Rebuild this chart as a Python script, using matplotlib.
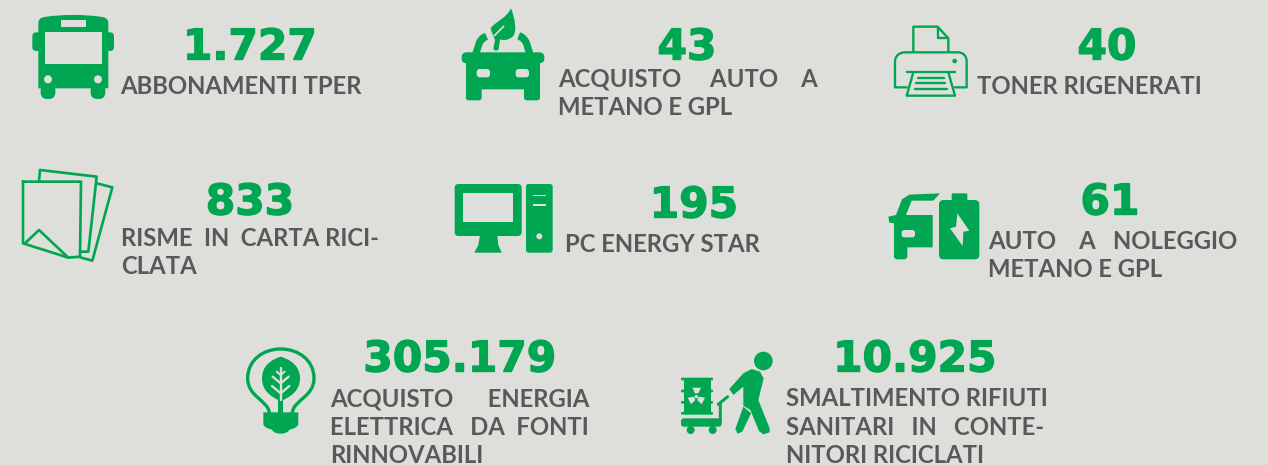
import matplotlib
matplotlib.use('Agg')
import matplotlib.pyplot as plt
import matplotlib.patheffects as pe
from matplotlib.patches import Circle, FancyBboxPatch, PathPatch, Polygon, Rectangle
from matplotlib.path import Path

BG = '#dedfda'
GREEN = '#00a651'
GREY = '#58595b'

# chart content
values = ['1.727', '43', '40', '833', '195', '61', '305.179', '10.925']
labels = [
    ['ABBONAMENTI TPER'],
    ['ACQUISTO AUTO A', 'METANO E GPL'],
    ['TONER RIGENERATI'],
    ['RISME IN CARTA RICI-', 'CLATA'],
    ['PC ENERGY STAR'],
    ['AUTO A NOLEGGIO', 'METANO E GPL'],
    ['ACQUISTO ENERGIA', 'ELETTRICA DA FONTI', 'RINNOVABILI'],
    ['SMALTIMENTO RIFIUTI', 'SANITARI IN CONTE-', 'NITORI RICICLATI'],
]

# layout, in pixels from the top left corner
value_x = [250, 687, 1107, 250, 694, 1110, 460, 915]
value_y = [59.5, 59.5, 59.5, 214.5, 217.5, 214.5, 371.5, 371.5]
label_x = [120, 558, 977, 121, 565, 988, 330, 786]
label_right = [None, 817, None, 379, None, 1235, 589, 1042]
label_y = [[94], [87, 115], [94], [246, 274], [252], [249, 277], [406, 435, 463], [406, 435, 463]]
# the last line of a paragraph is not justified, nor are the lines marked here
not_justified = {(7, 0)}

fig = plt.figure(figsize=(12.68, 4.65), dpi=100, facecolor=BG)
ax = fig.add_axes([0, 0, 1, 1])
ax.set_xlim(0, 1268)
ax.set_ylim(465, 0)
ax.axis('off')
renderer = fig.canvas.get_renderer()


# icon coordinates are given at 3x, relative to an origin
class Icon:
    def __init__(self, ox, oy):
        self.ox = ox
        self.oy = oy

    def pt(self, x, y):
        return self.ox + x / 3., self.oy + y / 3.

    def poly(self, pts, fc=GREEN, z=3):
        ax.add_patch(Polygon([self.pt(*p) for p in pts], closed=True, fc=fc, ec='none', zorder=z))

    def line(self, pts, lw=6, color=GREEN, z=3, closed=False):
        xy = [self.pt(*p) for p in pts]
        if closed:
            xy.append(xy[0])
        ax.plot([p[0] for p in xy], [p[1] for p in xy], color=color, lw=lw * 0.24,
                solid_capstyle='round', solid_joinstyle='round', zorder=z)

    def rect(self, x0, y0, x1, y1, r=0, fc=GREEN, z=3):
        x, y = self.pt(x0, y0)
        w, h = (x1 - x0) / 3., (y1 - y0) / 3.
        if r == 0:
            ax.add_patch(Rectangle((x, y), w, h, fc=fc, ec='none', zorder=z))
        else:
            ax.add_patch(FancyBboxPatch((x, y), w, h, boxstyle='round,pad=0,rounding_size=%f' % (r / 3.),
                                        fc=fc, ec='none', zorder=z))

    def circle(self, x, y, r, fc=GREEN, z=3):
        ax.add_patch(Circle(self.pt(x, y), r / 3., fc=fc, ec='none', zorder=z))

    def path(self, segs, fc=GREEN, ec='none', lw=0, z=3):
        verts, codes = [], []
        for s in segs:
            if s[0] == 'M':
                verts.append(self.pt(s[1], s[2]))
                codes.append(Path.MOVETO)
            elif s[0] == 'L':
                verts.append(self.pt(s[1], s[2]))
                codes.append(Path.LINETO)
            elif s[0] == 'C':
                verts += [self.pt(s[1], s[2]), self.pt(s[3], s[4]), self.pt(s[5], s[6])]
                codes += [Path.CURVE4] * 3
        ax.add_patch(PathPatch(Path(verts, codes), fc=fc, ec=ec, lw=lw * 0.24, zorder=z,
                               capstyle='round', joinstyle='round'))


# bus
ic = Icon(0, 0)
ic.rect(97, 97, 342, 153, r=12, z=2)
ic.path([('M', 115, 70), ('C', 115, 55, 125, 52, 140, 50), ('C', 190, 43, 250, 43, 300, 50),
         ('C', 315, 52, 325, 55, 325, 70), ('L', 325, 265), ('L', 115, 265), ('L', 115, 70)])
ic.rect(135, 97, 305, 193, fc=BG, z=4)
ic.rect(182, 61, 257, 81, fc=BG, z=4)
ic.circle(144, 238, 12, fc=BG, z=4)
ic.circle(294, 238, 12, fc=BG, z=4)
ic.rect(122, 250, 166, 297, r=20)
ic.rect(272, 250, 316, 297, r=20)

# car with leaf
ic = Icon(455, 5)
ic.rect(20, 142, 268, 175, r=15)
ic.rect(33, 160, 255, 253, r=8)
ic.rect(33, 225, 80, 286, r=8)
ic.rect(207, 225, 255, 286, r=8)
ic.path([('M', 50, 150), ('L', 63, 110), ('C', 68, 97, 78, 88, 90, 84), ('L', 99, 104),
         ('C', 90, 108, 85, 113, 82, 120), ('L', 70, 158), ('L', 50, 158), ('L', 50, 150)])
ic.path([('M', 237, 150), ('L', 224, 110), ('C', 219, 97, 208, 85, 195, 82), ('L', 187, 103),
         ('C', 197, 107, 202, 113, 205, 120), ('L', 216, 158), ('L', 237, 158), ('L', 237, 150)])
ic.rect(65, 192, 105, 217, r=9, fc=BG, z=4)
ic.rect(182, 192, 222, 217, r=9, fc=BG, z=4)
ic.path([('M', 168, 10), ('C', 178, 35, 190, 85, 170, 97), ('C', 158, 106, 145, 107, 135, 103),
         ('L', 131, 132), ('C', 128, 139, 116, 138, 115, 130), ('L', 120, 105), ('C', 115, 92, 109, 80, 107, 70),
         ('C', 120, 50, 155, 40, 168, 10)])
ic.line([(118, 92), (146, 64)], lw=5, color=BG, z=4)

# printer
ic = Icon(870, 0)
ic.line([(130, 155), (130, 80), (203, 80), (235, 115), (235, 155)], lw=7)
ic.line([(203, 85), (203, 115), (235, 115)], lw=7)
ic.path([('M', 110, 262), ('L', 75, 262), ('L', 75, 185), ('C', 75, 168, 88, 157, 105, 157), ('L', 262, 157),
         ('C', 280, 157, 290, 168, 290, 185), ('L', 290, 262), ('L', 255, 262)], fc='none', ec=GREEN, lw=7)
ic.circle(254, 183, 7)
ic.line([(110, 217), (256, 217)], lw=7)
ic.line([(130, 217), (110, 287), (255, 287), (235, 217)], lw=7)
ic.line([(143, 233), (222, 233)], lw=7)
ic.line([(139, 250), (226, 250)], lw=7)
ic.line([(136, 268), (230, 268)], lw=7)

# paper sheets
ic = Icon(0, 160)
ic.line([(69, 65), (243, 65), (240, 290), (205, 293), (69, 250)], lw=8, closed=True)
ic.line([(75, 250), (117, 210), (205, 293)], lw=8)
ic.line([(117, 63), (120, 30), (290, 50), (265, 275), (240, 275)], lw=8)
ic.line([(290, 70), (337, 82), (277, 302), (240, 292)], lw=8)

# computer
ic = Icon(440, 160)
ic.rect(44, 72, 245, 228, r=12)
ic.rect(70, 98, 219, 186, fc=BG, z=4)
ic.poly([(120, 225), (172, 225), (175, 255), (185, 278), (103, 278), (115, 255)])
ic.rect(258, 72, 338, 278, r=8)
ic.rect(280, 104, 318, 109, fc=BG, z=4)
ic.rect(280, 132, 318, 137, fc=BG, z=4)
ic.circle(298, 229, 9, fc=BG, z=4)

# car and battery
ic = Icon(870, 160)
ic.poly([(118, 104), (210, 100), (190, 122), (125, 122), (108, 165), (188, 165), (188, 262), (112, 262),
          (112, 292), (106, 298), (78, 298), (72, 292), (72, 190), (58, 188), (55, 170), (78, 165), (96, 118)])
ic.rect(95, 210, 135, 232, r=8, fc=BG, z=4)
ic.rect(207, 120, 328, 298, r=14)
ic.rect(245, 100, 292, 130, r=4)
ic.poly([(262, 160), (298, 212), (280, 215), (278, 258), (240, 205), (258, 200)], fc=BG, z=4)

# light bulb
ic = Icon(230, 325)
ic.path([('M', 118, 262), ('C', 112, 225, 53, 215, 53, 160), ('C', 53, 105, 100, 72, 152, 72),
         ('C', 205, 72, 252, 105, 252, 160), ('C', 252, 215, 192, 225, 187, 262)], fc='none', ec=GREEN, lw=10)
ic.path([('M', 152, 95), ('C', 185, 105, 210, 125, 210, 160), ('C', 210, 195, 185, 215, 152, 228),
         ('C', 120, 215, 96, 195, 96, 160), ('C', 96, 125, 120, 105, 152, 95)])
ic.line([(152, 130), (152, 226)], lw=7, color=BG, z=4)
ic.line([(128, 155), (152, 175), (176, 155)], lw=7, color=BG, z=4)
ic.line([(126, 183), (152, 205), (178, 183)], lw=7, color=BG, z=4)
ic.line([(140, 140), (152, 150), (164, 140)], lw=6, color=BG, z=4)
ic.rect(145, 226, 160, 265)
ic.path([('M', 100, 262), ('L', 205, 262), ('L', 205, 295), ('C', 205, 305, 195, 310, 178, 314),
         ('C', 172, 330, 132, 330, 126, 314), ('C', 110, 310, 100, 305, 100, 295), ('L', 100, 262)])

# person pushing a cart
ic = Icon(675, 345)
ic.circle(265, 48, 28)
ic.poly([(163, 132), (205, 85), (230, 72), (255, 80), (266, 100), (250, 165), (284, 250), (284, 262),
         (265, 268), (252, 258), (226, 195), (205, 182), (205, 125), (175, 150)])
ic.poly([(205, 185), (228, 205), (202, 260), (188, 266), (181, 252)])
ic.line([(158, 155), (130, 178), (136, 178), (136, 230)], lw=9)
ic.rect(18, 220, 140, 245, r=8)
ic.circle(47, 255, 12)
ic.circle(113, 255, 12)
ic.rect(28, 100, 108, 208)
for y in (102, 138, 172, 205):
    ic.rect(18, y - 4, 114, y + 4, r=3)
# radiation sign on the barrel
ic.circle(64, 155, 5, fc=BG, z=4)
ic.poly([(52, 128), (78, 128), (70, 145), (60, 145)], fc=BG, z=4)
ic.poly([(38, 158), (57, 155), (61, 165), (48, 178)], fc=BG, z=4)
ic.poly([(90, 158), (71, 155), (67, 165), (80, 178)], fc=BG, z=4)

# numbers, thickened to reach the black weight of the original
for i, value in enumerate(values):
    ax.text(value_x[i], value_y[i], value, family='DejaVu Sans', weight='bold', fontsize=30.5,
            color=GREEN, ha='center', va='baseline', zorder=5,
            path_effects=[pe.withStroke(linewidth=1.0, foreground=GREEN)])


# grow the gaps of a line with extra spaces until it reaches the right edge
def justified(t, line, width):
    words = line.split(' ')
    gaps = [1] * (len(words) - 1)
    t.set_text(line)
    i = 0
    while gaps:
        best = t.get_window_extent(renderer).width
        gaps[i % len(gaps)] += 1
        trial = ''.join(w + ' ' * g for w, g in zip(words, gaps)) + words[-1]
        t.set_text(trial)
        if t.get_window_extent(renderer).width > width:
            if abs(t.get_window_extent(renderer).width - width) > abs(best - width):
                gaps[i % len(gaps)] -= 1
                t.set_text(''.join(w + ' ' * g for w, g in zip(words, gaps)) + words[-1])
            break
        i += 1


# labels
for i, lines in enumerate(labels):
    for j, line in enumerate(lines):
        t = ax.text(label_x[i], label_y[i][j], line, family='Lato', weight='bold', fontsize=17.2,
                    color=GREY, ha='left', va='baseline', zorder=5)
        last = j == len(lines) - 1
        if label_right[i] is not None and not last and (i, j) not in not_justified:
            justified(t, line, label_right[i] - label_x[i])

fig.savefig('out.png', dpi=100, facecolor=BG)
